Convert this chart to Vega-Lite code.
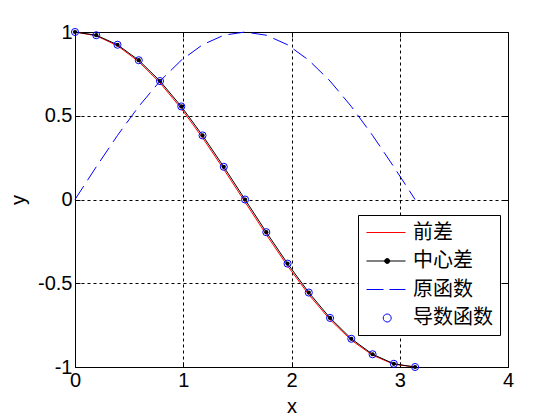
{
  "$schema": "https://vega.github.io/schema/vega-lite/v6.json",
  "width": 433,
  "height": 335,
  "autosize": {"type": "none"},
  "padding": {"left": 75, "top": 32, "right": 52, "bottom": 53},
  "background": "white",
  "config": {
    "view": {"stroke": "black", "strokeWidth": 1},
    "font": "Liberation Sans",
    "axis": {
      "labelFont": "Liberation Sans",
      "labelFontSize": 20,
      "labelColor": "black",
      "titleFont": "Liberation Sans",
      "titleFontSize": 20,
      "titleFontWeight": "normal",
      "titleColor": "black",
      "tickColor": "black",
      "tickSize": -5,
      "tickWidth": 1,
      "domain": false,
      "labelFlush": false,
      "labelOverlap": false,
      "gridColor": "black",
      "gridDash": [3, 3],
      "gridOpacity": 1,
      "gridWidth": 1
    }
  },
  "data": {
    "values": [
      {"x": 0, "前差": 0.9999, "中心差": 1, "原函数": 0, "导数函数": 1},
      {"x": 0.19635, "前差": 0.97776, "中心差": 0.98079, "原函数": 0.19509, "导数函数": 0.98079},
      {"x": 0.3927, "前差": 0.91805, "中心差": 0.92388, "原函数": 0.38268, "导数函数": 0.92388},
      {"x": 0.58905, "前差": 0.82306, "中心差": 0.83147, "原函数": 0.55557, "导数函数": 0.83147},
      {"x": 0.7854, "前差": 0.69643, "中心差": 0.70711, "原函数": 0.70711, "导数函数": 0.70711},
      {"x": 0.98175, "前差": 0.54304, "中心差": 0.55557, "原函数": 0.83147, "导数函数": 0.55557},
      {"x": 1.1781, "前差": 0.36878, "中心差": 0.38268, "原函数": 0.92388, "导数函数": 0.38268},
      {"x": 1.37445, "前差": 0.18036, "中心差": 0.19509, "原函数": 0.98079, "导数函数": 0.19509},
      {"x": 1.5708, "前差": -0.015, "中心差": 0, "原函数": 1, "导数函数": 0},
      {"x": 1.76715, "前差": -0.20978, "中心差": -0.19509, "原函数": 0.98079, "导数函数": -0.19509},
      {"x": 1.9635, "前差": -0.3965, "中心差": -0.38268, "原函数": 0.92388, "导数函数": -0.38268},
      {"x": 2.15984, "前差": -0.56798, "中心差": -0.55557, "原函数": 0.83147, "导数函数": -0.55557},
      {"x": 2.35619, "前差": -0.71765, "中心差": -0.70711, "原函数": 0.70711, "导数函数": -0.70711},
      {"x": 2.55254, "前差": -0.83972, "中心差": -0.83147, "原函数": 0.55557, "导数函数": -0.83147},
      {"x": 2.74889, "前差": -0.92953, "中心差": -0.92388, "原函数": 0.38268, "导数函数": -0.92388},
      {"x": 2.94524, "前差": -0.98362, "中心差": -0.98079, "原函数": 0.19509, "导数函数": -0.98079},
      {"x": 3.14159, "前差": -0.9999, "中心差": -1, "原函数": 0, "导数函数": -1}
    ]
  },
  "transform": [
    {"fold": ["前差", "中心差", "原函数", "导数函数"], "as": ["series", "y"]}
  ],
  "encoding": {
    "color": {
      "field": "series",
      "type": "nominal",
      "scale": {
        "domain": ["前差", "中心差", "原函数", "导数函数"],
        "range": ["#ff0000", "#000000", "#0000ff", "#0000ff"]
      },
      "legend": {
        "title": null,
        "orient": "none",
        "legendX": 283,
        "legendY": 183,
        "strokeColor": "black",
        "fillColor": "white",
        "padding": 7,
        "symbolSize": 400,
        "symbolStrokeWidth": 1,
        "labelFont": "Noto Sans CJK SC",
        "labelFontSize": 20,
        "labelColor": "black",
        "labelOffset": 27,
        "rowPadding": 7.5,
        "labelExpr": "datum.label + '\u00a0'",
        "encode": {
          "symbols": {
            "update": {
              "shape": {"signal": "datum.value === '前差' ? 'M-0.9,0H3' : datum.value === '中心差' ? 'M-0.9,0H3M0.92,0a0.25,0.25 0 1,0 0.5,0a0.25,0.25 0 1,0 -0.5,0' : datum.value === '原函数' ? 'M-0.9,0H0.8M1.4,0H3' : 'M0.77,0a0.4,0.4 0 1,0 0.8,0a0.4,0.4 0 1,0 -0.8,0'"},
              "fillOpacity": {"signal": "datum.value === '中心差' ? 1 : 0"},
              "stroke": {"signal": "datum.value === '前差' ? '#ff0000' : datum.value === '中心差' ? '#000000' : '#0000ff'"},
              "opacity": {"value": 1}
            }
          }
        }
      }
    }
  },
  "layer": [
    {
      "transform": [{"filter": "datum.series === '前差'"}],
      "mark": {"type": "line", "strokeWidth": 1},
      "encoding": {
        "x": {
          "field": "x", "type": "quantitative",
          "scale": {"domain": [0, 4], "nice": false, "zero": false},
          "axis": {"orient": "bottom", "values": [0, 1, 2, 3, 4], "grid": true, "labelPadding": 8, "title": "x", "titlePadding": 6, "labelExpr": "toString(datum.value)"}
        },
        "y": {
          "field": "y", "type": "quantitative",
          "scale": {"domain": [-1, 1], "nice": false, "zero": false},
          "axis": {"orient": "left", "values": [-1, -0.5, 0, 0.5, 1], "grid": true, "labelPadding": 8, "title": "y", "titlePadding": 9, "labelExpr": "toString(datum.value)"}
        }
      }
    },
    {
      "transform": [{"filter": "datum.series === '中心差'"}],
      "mark": {"type": "line", "strokeWidth": 1},
      "encoding": {
        "x": {
          "field": "x", "type": "quantitative",
          "scale": {"domain": [0, 4], "nice": false, "zero": false},
          "axis": {"orient": "top", "values": [0, 1, 2, 3, 4], "grid": false, "labels": false, "title": null}
        },
        "y": {
          "field": "y", "type": "quantitative",
          "scale": {"domain": [-1, 1], "nice": false, "zero": false},
          "axis": {"orient": "right", "values": [-1, -0.5, 0, 0.5, 1], "grid": false, "labels": false, "title": null}
        }
      }
    },
    {
      "transform": [{"filter": "datum.series === '中心差'"}],
      "mark": {"type": "point", "filled": true, "shape": "circle", "size": 18, "opacity": 1},
      "encoding": {
        "x": {"field": "x", "type": "quantitative", "axis": null},
        "y": {"field": "y", "type": "quantitative", "axis": null}
      }
    },
    {
      "transform": [{"filter": "datum.series === '原函数'"}],
      "mark": {"type": "line", "strokeWidth": 1, "strokeDash": [16, 7]},
      "encoding": {
        "x": {"field": "x", "type": "quantitative", "axis": null},
        "y": {"field": "y", "type": "quantitative", "axis": null}
      }
    },
    {
      "transform": [{"filter": "datum.series === '导数函数'"}],
      "mark": {"type": "point", "filled": false, "shape": "circle", "size": 50, "strokeWidth": 1, "opacity": 1},
      "encoding": {
        "x": {"field": "x", "type": "quantitative", "axis": null},
        "y": {"field": "y", "type": "quantitative", "axis": null}
      }
    }
  ],
  "resolve": {"axis": {"x": "independent", "y": "independent"}}
}
